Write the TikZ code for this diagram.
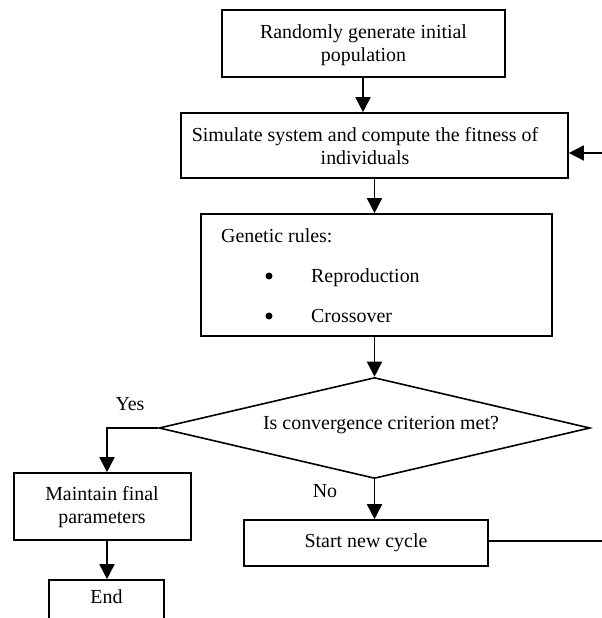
\documentclass[tikz,border=0pt]{standalone}
\usepackage{fontspec}
\setmainfont{Liberation Serif}
\usetikzlibrary{shapes.geometric,arrows.meta,calc}
\begin{document}
\begin{tikzpicture}[x=1bp,y=-1bp,
  every node/.style={font=\fontsize{20}{23}\selectfont},
  box/.style={draw,line width=1.6bp,rectangle,inner sep=0pt},
  txt/.style={align=center,inner sep=0pt},
  dot/.style={circle,fill,inner sep=0pt,minimum size=7bp},
  arr/.style={line width=1.6bp,-{Triangle[length=15bp,width=15bp]}}]
\useasboundingbox (0,0) rectangle (602,618);
% boxes
\node[box,minimum width=283bp,minimum height=67bp] (b1) at (363.5,43.5) {};
\node[txt] (t1) at (363.5,45) {Randomly generate initial\\population};
\node[box,minimum width=387bp,minimum height=65bp] (b2) at (374.5,145.5) {};
\node[txt] (t2) at (365,146) {Simulate system and compute the fitness of\\individuals};
\node[box,minimum width=351bp,minimum height=122bp] (b3) at (376.5,275) {};
\node[anchor=base west,inner sep=0pt] (g0) at (221,242) {Genetic rules:};
\node[dot] (bu1) at (269,276) {};
\node[dot] (bu2) at (269,316) {};
\node[anchor=base west,inner sep=0pt] (g1) at (311,282) {Reproduction};
\node[anchor=base west,inner sep=0pt] (g2) at (311,322) {Crossover};
\node[draw,diamond,line width=1.6bp,minimum width=431bp,minimum height=101bp,inner sep=0pt] (dia) at (374.5,428) {};
\node[txt] (td) at (381,425) {Is convergence criterion met?};
\node[box,minimum width=177bp,minimum height=67bp] (maint) at (102.5,506.5) {};
\node[txt] (tm) at (102,507) {Maintain final\\parameters};
\node[box,minimum width=115bp,minimum height=60bp] (endbox) at (106.5,610) {};
\node[txt] (te) at (106.5,597) {End};
\node[box,minimum width=244bp,minimum height=46bp] (start) at (366,543) {};
\node[txt] (ts) at (366,543) {Start new cycle};
\node[txt] (yes) at (130,404) {Yes};
\node[txt] (no) at (325,491) {No};
% connectors
\draw[arr] (b1.south -| 363,0) -- (b2.north -| 363,0);
\draw[arr] (b2.south -| dia.north) -- (b3.north -| dia.north);
\draw[arr] (b3.south -| dia.north) -- (dia.north);
\draw[arr] (dia.west) -| ([xshift=4.5bp]maint.north);
\draw[arr] (dia.south) -- (start.north -| dia.south);
\draw[arr] ([xshift=4.5bp]maint.south) -- ([xshift=0.5bp]endbox.north);
\coordinate (r1) at (607,541);
\coordinate (r2) at (607,153);
\draw[arr] (start.east |- r1) -- (r1) -- (r2) -- (r2 -| b2.east);
\end{tikzpicture}
\end{document}
